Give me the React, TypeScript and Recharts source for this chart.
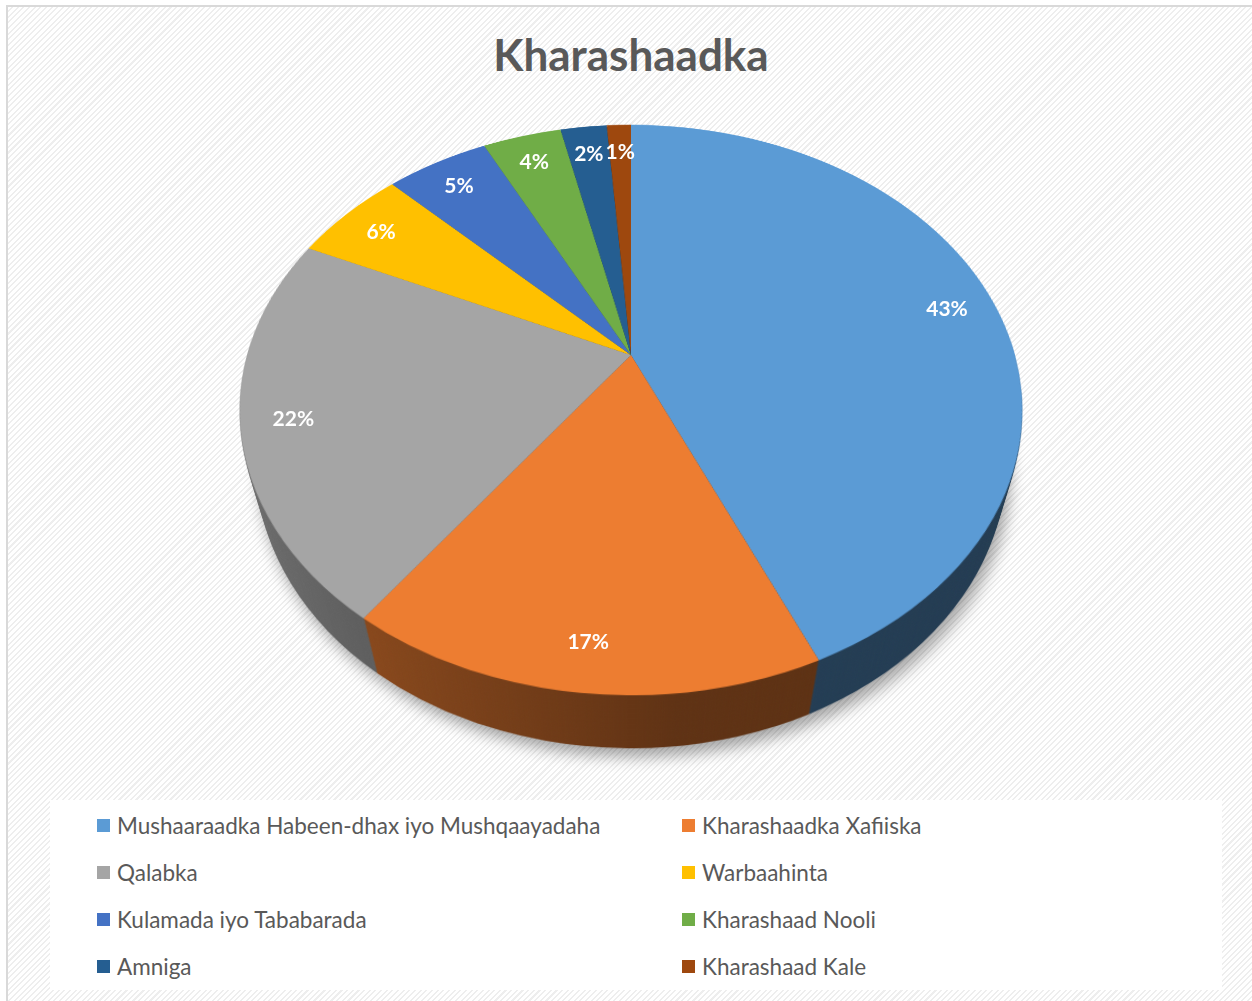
import { PieChart, Pie, Cell, Legend } from 'recharts'

const categories = [
  'Mushaaraadka Habeen-dhax iyo Mushqaayadaha',
  'Kharashaadka Xafiiska',
  'Qalabka',
  'Warbaahinta',
  'Kulamada iyo Tababarada',
  'Kharashaad Nooli',
  'Amniga',
  'Kharashaad Kale',
]
// shares in percent
const shares = [43.4, 16.6, 21.9, 5.6, 5.1, 3.9, 2.3, 1.2]
const colors = ['#5B9BD5', '#ED7D31', '#A5A5A5', '#FFC000', '#4472C4', '#70AD47', '#255E91', '#9E480E']

const chartData = categories.map((name, i) => ({ name, value: shares[i] }))

// 3d look: the pie is drawn flat, then tilted back with a css perspective
const CX = 631 // apex on screen
const CY = 355
const R0 = 384 // radius of the flat pie
const TILT = 44.35 // degrees
const PERSP = 1390
const DEPTH = 86
const STEP = 2
const layers = Array.from({ length: DEPTH / STEP }, (_, i) => DEPTH - i * STEP)

const RAD = Math.PI / 180
const SIN_T = Math.sin(TILT * RAD)
const COS_T = Math.cos(TILT * RAD)

function shade(hex: string, f: number) {
  const n = parseInt(hex.slice(1), 16)
  const r = Math.round(((n >> 16) & 255) * f)
  const g = Math.round(((n >> 8) & 255) * f)
  const b = Math.round((n & 255) * f)
  return `rgb(${r},${g},${b})`
}

// same projection as the css transform, so labels land on their slice
function project(x: number, y: number) {
  const z = y * SIN_T
  const s = PERSP / (PERSP - z)
  return [CX + x * s, CY + y * COS_T * s]
}

function renderLabel(props: any) {
  const { midAngle, percent } = props
  const r = R0 * 0.87
  const [x, y] = project(r * Math.cos(-midAngle * RAD), r * Math.sin(-midAngle * RAD))
  return (
    <text
      x={x}
      y={y}
      fill="#fff"
      fontFamily="Lato, sans-serif"
      fontWeight={700}
      fontSize={21}
      textAnchor="middle"
      dominantBaseline="central"
    >
      {`${Math.round(percent * 100)}%`}
    </text>
  )
}

function renderLegend(props: any) {
  const seen = new Set<string>()
  const items = (props.payload || [])
    .filter((item: any) => {
      if (typeof item.color !== 'string' || !item.color.startsWith('#')) return false
      if (seen.has(item.value)) return false
      seen.add(item.value)
      return true
    })
    .sort((a: any, b: any) => categories.indexOf(a.value) - categories.indexOf(b.value))
  return (
    <div
      style={{
        display: 'grid',
        gridTemplateColumns: '585px 540px',
        gridAutoRows: '47px',
        paddingLeft: 47,
        paddingTop: 2,
        background: '#fff',
        width: 1172,
        height: 190,
        boxSizing: 'border-box',
        fontFamily: 'Lato, sans-serif',
        fontSize: 22.5,
        color: '#595959',
      }}
    >
      {items.map((item: any) => (
        <div key={item.value} style={{ display: 'flex', alignItems: 'center' }}>
          <span style={{ width: 13, height: 13, background: item.color, marginRight: 7, flex: 'none' }} />
          <span>{item.value}</span>
        </div>
      ))}
    </div>
  )
}

function FlatPie({ side }: { side: boolean }) {
  return (
    <PieChart width={R0 * 2} height={R0 * 2} margin={{ top: 0, right: 0, bottom: 0, left: 0 }}>
      {side && (
        <defs>
          {colors.map((c, i) => (
            <linearGradient key={c} id={`side-${i}`} gradientUnits="userSpaceOnUse" x1={0} y1={0} x2={R0 * 2} y2={0}>
              <stop offset="0" stopColor={shade(c, 0.68)} />
              <stop offset="0.17" stopColor={shade(c, 0.59)} />
              <stop offset="0.55" stopColor={shade(c, 0.4)} />
              <stop offset="1" stopColor={shade(c, 0.38)} />
            </linearGradient>
          ))}
        </defs>
      )}
      <Pie
        data={chartData}
        dataKey="value"
        nameKey="name"
        cx={R0}
        cy={R0}
        outerRadius={R0}
        startAngle={90}
        endAngle={-270}
        stroke="none"
        legendType="none"
        isAnimationActive={false}
      >
        {chartData.map((_, i) => (
          <Cell key={i} fill={side ? `url(#side-${i})` : colors[i]} />
        ))}
      </Pie>
    </PieChart>
  )
}

export default function App() {
  return (
    <div
      style={{
        position: 'absolute',
        left: 0,
        top: 0,
        width: 1252,
        height: 1001,
        background: '#fff',
        overflow: 'hidden',
      }}
    >
      <div
        style={{
          position: 'absolute',
          left: 6,
          top: 5,
          width: 1260,
          height: 1010,
          border: '2px solid #d9d9d9',
          background: 'repeating-linear-gradient(135deg, #ffffff 0px, #ffffff 2.5px, #eeeeee 2.5px, #eeeeee 4px)',
        }}
      />
      <div
        style={{
          position: 'absolute',
          left: 0,
          top: 28,
          width: 1262,
          textAlign: 'center',
          fontFamily: 'Lato, sans-serif',
          fontWeight: 700,
          fontSize: 44,
          color: '#595959',
        }}
      >
        Kharashaadka
      </div>
      <div
        style={{
          position: 'absolute',
          left: 0,
          top: 0,
          width: 1252,
          height: 1001,
          perspective: `${PERSP}px`,
          perspectiveOrigin: `${CX}px ${CY}px`,
        }}
      >
        <div
          style={{
            position: 'absolute',
            left: CX - R0,
            top: CY - R0,
            width: R0 * 2,
            height: R0 * 2,
            transformStyle: 'preserve-3d',
            transform: `rotateX(${TILT}deg)`,
          }}
        >
          {layers.map((d) => (
            <div
              key={d}
              style={{
                position: 'absolute',
                left: 0,
                top: 0,
                transform: `translateZ(${-d}px)`,
                filter: d === DEPTH ? 'drop-shadow(4px 8px 7px rgba(0,0,0,0.35))' : undefined,
              }}
            >
              <FlatPie side />
            </div>
          ))}
          <div style={{ position: 'absolute', left: 0, top: 0, transform: 'translateZ(0px)' }}>
            <FlatPie side={false} />
          </div>
        </div>
      </div>
      <div style={{ position: 'absolute', left: 0, top: 0 }}>
        <PieChart width={1252} height={1001} margin={{ top: 0, right: 0, bottom: 0, left: 0 }}>
          <Pie
            data={chartData}
            dataKey="value"
            nameKey="name"
            cx={CX}
            cy={CY}
            outerRadius={R0}
            startAngle={90}
            endAngle={-270}
            stroke="none"
            legendType="square"
            label={renderLabel}
            labelLine={false}
            isAnimationActive={false}
          >
            {chartData.map((_, i) => (
              <Cell key={i} fill={colors[i]} fillOpacity={0} />
            ))}
          </Pie>
          <Legend
            content={renderLegend}
            wrapperStyle={{ position: 'absolute', left: 50, top: 800, width: 1172, height: 190 }}
          />
        </PieChart>
      </div>
    </div>
  )
}
